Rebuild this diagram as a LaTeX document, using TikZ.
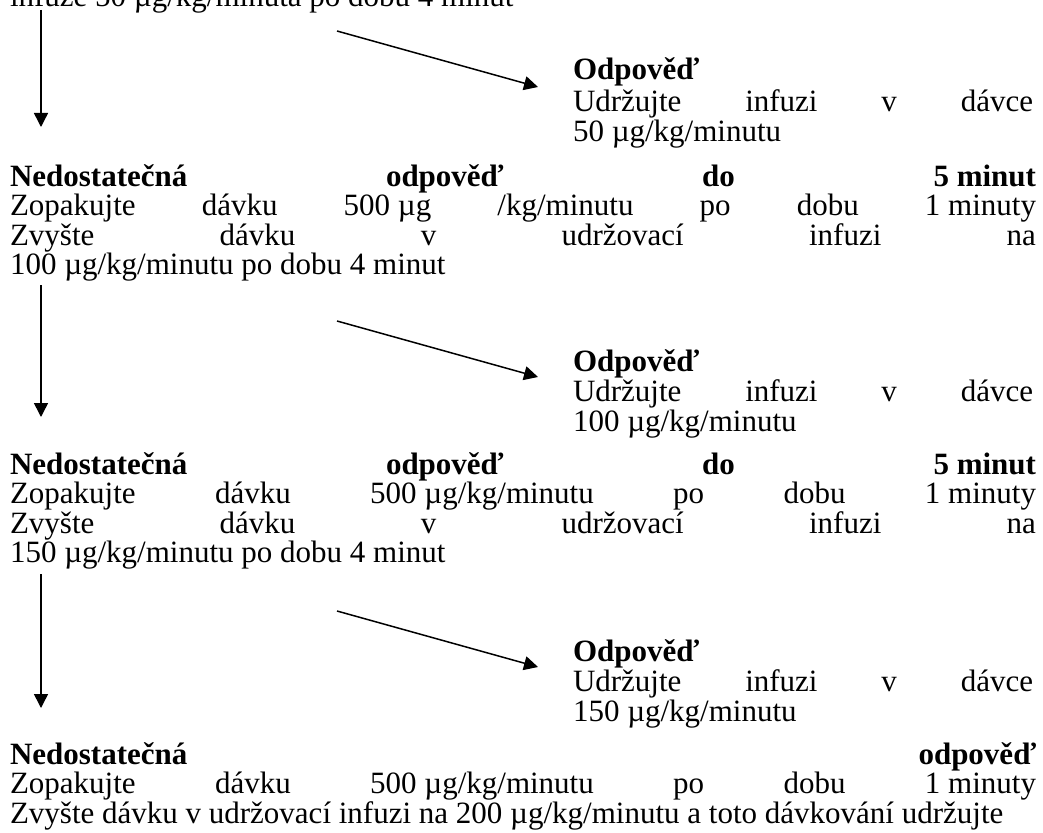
\documentclass[tikz,border=0pt]{standalone}
\usepackage{fontspec}
\setmainfont{Liberation Serif}
\usetikzlibrary{arrows.meta}
\newlength\leftw \setlength\leftw{1026pt}
\newlength\rightw \setlength\rightw{460pt}
\newcommand\jleft[1]{\hbox to\leftw{#1}}
\newcommand\jright[1]{\hbox to\rightw{#1}}
\begin{document}
\begin{tikzpicture}[x=1pt,y=-1pt,
  txt/.style={anchor=base west,inner sep=0pt,outer sep=0pt,font=\fontsize{31}{31}\selectfont},
  hd/.style={txt,font=\fontsize{31}{31}\selectfont\bfseries},
  flow/.style={line width=1.5pt,-{Triangle[length=14pt,width=14pt]}}]
\useasboundingbox (0,0) rectangle (1043,832);

% ---- block 1
\node[txt] (top) at (10,7) {infuze 50 µg/kg/minuta po dobu 4 minut};
\coordinate (v1s) at (41,10); \coordinate (v1e) at (41,127);
\coordinate (d1s) at (337,31); \coordinate (d1e) at (538,87);
\draw[flow] (v1s) -- (v1e);
\draw[flow] (d1s) -- (d1e);
\node[hd] (r1h) at (573,80) {Odpověď};
\node[txt] (r1a) at (573,111) {\jright{Udržujte\hfill infuzi\hfill v\hfill dávce}};
\node[txt] (r1b) at (573,142) {50 µg/kg/minutu};
\node[hd] (h1) at (10,186) {\jleft{Nedostatečná\hfill odpověď\hfill do\hfill 5 minut}};
\node[txt] (z1) at (10,215.5) {\jleft{Zopakujte\hfill dávku\hfill 500 µg\hfill /kg/minutu\hfill po\hfill dobu\hfill 1 minuty}};
\node[txt] (w1) at (10,245) {\jleft{Zvyšte\hfill dávku\hfill v\hfill udržovací\hfill infuzi\hfill na}};
\node[txt] (e1) at (10,274.5) {100 µg/kg/minutu po dobu 4 minut};

% ---- block 2
\coordinate (v2s) at (41,285); \coordinate (v2e) at (41,417);
\coordinate (d2s) at (337,321); \coordinate (d2e) at (538,377);
\draw[flow] (v2s) -- (v2e);
\draw[flow] (d2s) -- (d2e);
\node[hd] (r2h) at (573,371) {Odpověď};
\node[txt] (r2a) at (573,401) {\jright{Udržujte\hfill infuzi\hfill v\hfill dávce}};
\node[txt] (r2b) at (573,431) {100 µg/kg/minutu};
\node[hd] (h2) at (10,474) {\jleft{Nedostatečná\hfill odpověď\hfill do\hfill 5 minut}};
\node[txt] (z2) at (10,503.5) {\jleft{Zopakujte\hfill dávku\hfill 500 µg/kg/minutu\hfill po\hfill dobu\hfill 1 minuty}};
\node[txt] (w2) at (10,533) {\jleft{Zvyšte\hfill dávku\hfill v\hfill udržovací\hfill infuzi\hfill na}};
\node[txt] (e2) at (10,562.5) {150 µg/kg/minutu po dobu 4 minut};

% ---- block 3
\coordinate (v3s) at (41,574); \coordinate (v3e) at (41,708);
\coordinate (d3s) at (337,611); \coordinate (d3e) at (538,667);
\draw[flow] (v3s) -- (v3e);
\draw[flow] (d3s) -- (d3e);
\node[hd] (r3h) at (573,661) {Odpověď};
\node[txt] (r3a) at (573,691) {\jright{Udržujte\hfill infuzi\hfill v\hfill dávce}};
\node[txt] (r3b) at (573,721) {150 µg/kg/minutu};
\node[hd] (h3) at (10,764) {\jleft{Nedostatečná\hfill odpověď}};
\node[txt] (z3) at (10,793.5) {\jleft{Zopakujte\hfill dávku\hfill 500 µg/kg/minutu\hfill po\hfill dobu\hfill 1 minuty}};
\node[txt] (w3) at (10,823) {Zvyšte dávku v udržovací infuzi na 200 µg/kg/minutu a toto dávkování udržujte};
\end{tikzpicture}
\end{document}
